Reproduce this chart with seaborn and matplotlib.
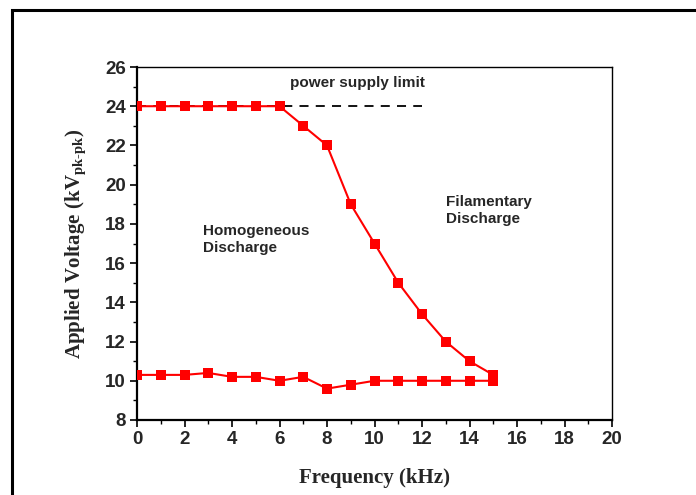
import matplotlib
matplotlib.use('Agg')
import matplotlib.pyplot as plt
from matplotlib.patches import Rectangle
from matplotlib.ticker import MultipleLocator
import seaborn as sns
import pandas as pd

# upper branch: breakdown limit, lower branch: ignition
freq_upper = [0, 1, 2, 3, 4, 5, 6, 7, 8, 9, 10, 11, 12, 13, 14, 15]
volt_upper = [24, 24, 24, 24, 24, 24, 24, 23, 22, 19, 17, 15, 13.4, 12, 11, 10.3]
freq_lower = [0, 1, 2, 3, 4, 5, 6, 7, 8, 9, 10, 11, 12, 13, 14, 15]
volt_lower = [10.3, 10.3, 10.3, 10.4, 10.2, 10.2, 10.0, 10.2, 9.6, 9.8, 10.0, 10.0, 10.0, 10.0, 10.0, 10.0]
limit_x = [0, 12]
limit_y = [24, 24]

sns.set_style('ticks')
plt.rcParams['font.family'] = ['Liberation Sans', 'DejaVu Sans']
plt.rcParams['mathtext.fontset'] = 'custom'
plt.rcParams['mathtext.rm'] = 'Liberation Serif:bold'
plt.rcParams['mathtext.bf'] = 'Liberation Serif:bold'
plt.rcParams['mathtext.it'] = 'Liberation Serif:bold'

fig = plt.figure(figsize=(6.96, 4.95), dpi=100)
ax = fig.add_axes([137 / 696, 75 / 495, 475 / 696, 353 / 495])

ax.plot(limit_x, limit_y, color='black', linestyle=(0, (5, 4)), linewidth=1.3, zorder=1)

up = pd.DataFrame({'f': freq_upper, 'v': volt_upper})
lo = pd.DataFrame({'f': freq_lower, 'v': volt_lower})
sns.lineplot(data=up, x='f', y='v', ax=ax, color='#ff0000', marker='s',
             markersize=7, markeredgewidth=0, linewidth=1.5, zorder=3)
sns.lineplot(data=lo, x='f', y='v', ax=ax, color='#ff0000', marker='s',
             markersize=7, markeredgewidth=0, linewidth=1.5, zorder=3)

ax.set_xlim(0, 20)
ax.set_ylim(8, 26)
ax.xaxis.set_major_locator(MultipleLocator(2))
ax.xaxis.set_minor_locator(MultipleLocator(1))
ax.yaxis.set_major_locator(MultipleLocator(2))
ax.yaxis.set_minor_locator(MultipleLocator(1))
ax.tick_params(which='major', direction='out', length=5, width=1.2, color='black',
               labelsize=13.5, pad=3)
ax.tick_params(which='minor', direction='out', length=3, width=1.0, color='black')
for lab in ax.get_xticklabels() + ax.get_yticklabels():
    lab.set_fontweight('bold')

for side in ['left', 'bottom']:
    ax.spines[side].set_linewidth(1.6)
for side in ['top', 'right']:
    ax.spines[side].set_linewidth(1.0)
    ax.spines[side].set_visible(True)
for s in ax.spines.values():
    s.set_color('black')

ax.set_xlabel('Frequency (kHz)', fontsize=15, fontweight='bold',
              family='Liberation Serif', labelpad=14)
ax.set_ylabel(r'$\mathrm{Applied\ Voltage\ (kV_{pk\text{-}pk})}$', fontsize=15,
              labelpad=12)

ax.text(6.45, 25.2, 'power supply limit', fontsize=11, fontweight='bold',
        ha='left', va='center')
ax.text(2.8, 17.2, 'Homogeneous\nDischarge', fontsize=11, fontweight='bold',
        ha='left', va='center', linespacing=1.3)
ax.text(13.0, 18.7, 'Filamentary\nDischarge', fontsize=11, fontweight='bold',
        ha='left', va='center', linespacing=1.3)

# outer frame around the figure, running off the right and bottom edges
fig.add_artist(Rectangle((12 / 696, -0.2), 1.2, 1.18,
                         transform=fig.transFigure, fill=False,
                         edgecolor='black', linewidth=2.2))

fig.savefig('out.png', dpi=100)
